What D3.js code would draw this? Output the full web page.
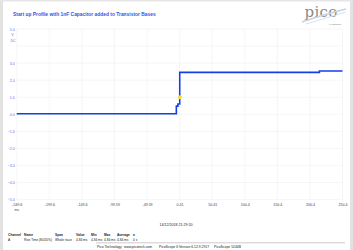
<!DOCTYPE html>
<html><head><meta charset="utf-8">
<script src="https://cdn.jsdelivr.net/npm/d3@7"></script>
<style>html,body{margin:0;padding:0;background:#fff;}svg{display:block;font-family:"Liberation Sans",Arial,sans-serif;}</style>
</head><body><svg id="c" width="353" height="250"></svg>
<script>
// ---- data ----
const title = "Start up Profile with 1nF Capacitor added to Transistor Bases";
const xTickValues = [-249.6, -199.6, -149.6, -99.59, -49.59, 0.41, 50.41, 100.4, 150.4, 200.4, 250.4];
const xTickLabels = ["-249.6", "-199.6", "-149.6", "-99.59", "-49.59", "0.41", "50.41", "100.4", "150.4", "200.4", "250.4"];
const yTickValues = [5, 3, 2, 1, 0, -1, -2, -3, -4, -5];
const yGridValues = [5, 4, 3, 2, 1, 0, -1, -2, -3, -4, -5];
const traceTimes  = [-249.6, -4.6, -4.6, -2.2, -2.2, 0.6, 0.6, 215, 215, 250.4];
const traceValues = [0.03, 0.03, 0.48, 0.48, 0.6, 0.6, 2.46, 2.46, 2.54, 2.54];
const markerTime = [0.9];
const markerValue = [1.0];
const tableHeader = ["Channel", "Name", "Span", "Value", "Min", "Max", "Average", "±"];
const tableRow = ["A", "Rise Time (80/20%)", "Whole trace", "4.84 ms", "4.84 ms", "4.84 ms", "4.84 ms", "0 s"];
const dateText = "14/12/2018 21:29:20";
const footerText = ["Pico Technology", "www.picotech.com", "PicoScope 6 Version 6.12.9.2917", "PicoScope 5244B"];

// ---- layout ----
const svg = d3.select("#c");
svg.append("rect").attr("x",0).attr("y",0).attr("width",3).attr("height",250).attr("fill","#e2e2e2");
svg.append("rect").attr("x",350).attr("y",0).attr("width",3).attr("height",250).attr("fill","#e2e2e2");
svg.append("rect").attr("x",0).attr("y",0).attr("width",353).attr("height",1.5).attr("fill","#e6e6e6");

const x = d3.scaleLinear().domain([-249.6, 250.4]).range([16.7, 342.5]);
const y = d3.scaleLinear().domain([-5, 5]).range([199.6, 29]);

// title
svg.append("text").attr("x",13).attr("y",16).attr("fill","#2f55e6").attr("font-weight","bold")
  .attr("font-size",4.9).text(title);

// grid
const g = svg.append("g");
g.selectAll("line.h").data(yGridValues).join("line").attr("class","h")
  .attr("x1",x.range()[0]).attr("x2",x.range()[1]).attr("y1",d=>y(d)).attr("y2",d=>y(d))
  .attr("stroke","#eef0f4").attr("stroke-width",0.6);
g.selectAll("line.v").data(xTickValues).join("line").attr("class","v")
  .attr("y1",y(5)).attr("y2",y(-5)).attr("x1",d=>x(d)).attr("x2",d=>x(d))
  .attr("stroke","#eef0f4").attr("stroke-width",0.6);

// y axis labels
const yAxis = d3.axisLeft(y).tickValues(yTickValues).tickFormat(d3.format(".1f")).tickSize(0).tickPadding(2);
const ya = svg.append("g").attr("transform",`translate(${x.range()[0]},0)`).call(yAxis);
ya.select(".domain").remove();
ya.selectAll("text").attr("fill","#5a70f0").attr("font-size",3.6).attr("font-family","Liberation Sans, Arial, sans-serif");
svg.append("text").attr("x",12.5).attr("y",35.5).attr("fill","#5a70f0").attr("font-size",3.6).attr("text-anchor","middle").text("V");
svg.append("text").attr("x",13).attr("y",41.5).attr("fill","#5a70f0").attr("font-size",3.6).attr("text-anchor","middle").text("DC");

// x axis labels
const xAxis = d3.axisBottom(x).tickValues(xTickValues).tickFormat((d,i)=>xTickLabels[i]).tickSize(0).tickPadding(4);
const xa = svg.append("g").attr("transform",`translate(0,${y(-5)})`).call(xAxis);
xa.select(".domain").remove();
xa.selectAll("text").attr("fill","#444").attr("font-size",3.6).attr("font-family","Liberation Sans, Arial, sans-serif");
svg.append("text").attr("x",x(-249.6)).attr("y",211).attr("fill","#444").attr("font-size",3.4).attr("text-anchor","middle").text("ms");

// trace
const line = d3.line().x((d,i)=>x(traceTimes[i])).y((d,i)=>y(traceValues[i]));
svg.append("path").datum(traceValues).attr("d",line).attr("fill","none")
  .attr("stroke","#1240e8").attr("stroke-width",1.6);
svg.selectAll("circle.m").data(markerValue).join("circle").attr("class","m")
  .attr("cx",(d,i)=>x(markerTime[i])).attr("cy",d=>y(d)).attr("r",2).attr("fill","#f0e040");

// pico logo
const logo = svg.append("g");
logo.append("text").attr("x",321).attr("y",17).attr("text-anchor","middle").attr("fill","#8a8a8a")
  .attr("font-family","DejaVu Serif, Liberation Serif, serif").attr("font-size",15).attr("letter-spacing",0.3).text("pico");
logo.append("path").attr("d","M302,22 Q325,14 346,9").attr("stroke","#c5d3e2").attr("stroke-width",1.4).attr("fill","none");
logo.append("path").attr("d","M306,24 Q326,18 346,12").attr("stroke","#d8e2ec").attr("stroke-width",1).attr("fill","none");
logo.append("text").attr("x",335).attr("y",24.5).attr("text-anchor","middle").attr("fill","#777").attr("font-size",2.8)
  .attr("font-family","Liberation Serif, serif").text("Technology");

// date
svg.append("text").attr("x",176).attr("y",225.5).attr("text-anchor","middle").attr("fill","#222").attr("font-size",3.6).text(dateText);

// table
const colX = [8, 24, 55, 76, 91, 104, 117, 133];
svg.append("g").selectAll("text").data(tableHeader).join("text")
  .attr("x",(d,i)=>colX[i]).attr("y",235.5).attr("font-size",3.3).attr("font-weight","bold").attr("fill","#222").text(d=>d);
svg.append("g").selectAll("text").data(tableRow).join("text")
  .attr("x",(d,i)=>colX[i]).attr("y",240.5).attr("font-size",3.2).attr("fill","#222").text(d=>d);

// footer
svg.append("line").attr("x1",96).attr("x2",345).attr("y1",242.8).attr("y2",242.8).attr("stroke","#999").attr("stroke-width",0.5);
const footX = [97, 124, 159, 214];
svg.append("g").selectAll("text").data(footerText).join("text")
  .attr("x",(d,i)=>footX[i]).attr("y",247.5).attr("font-size",3.4).attr("fill","#222").text(d=>d);
</script></body></html>
